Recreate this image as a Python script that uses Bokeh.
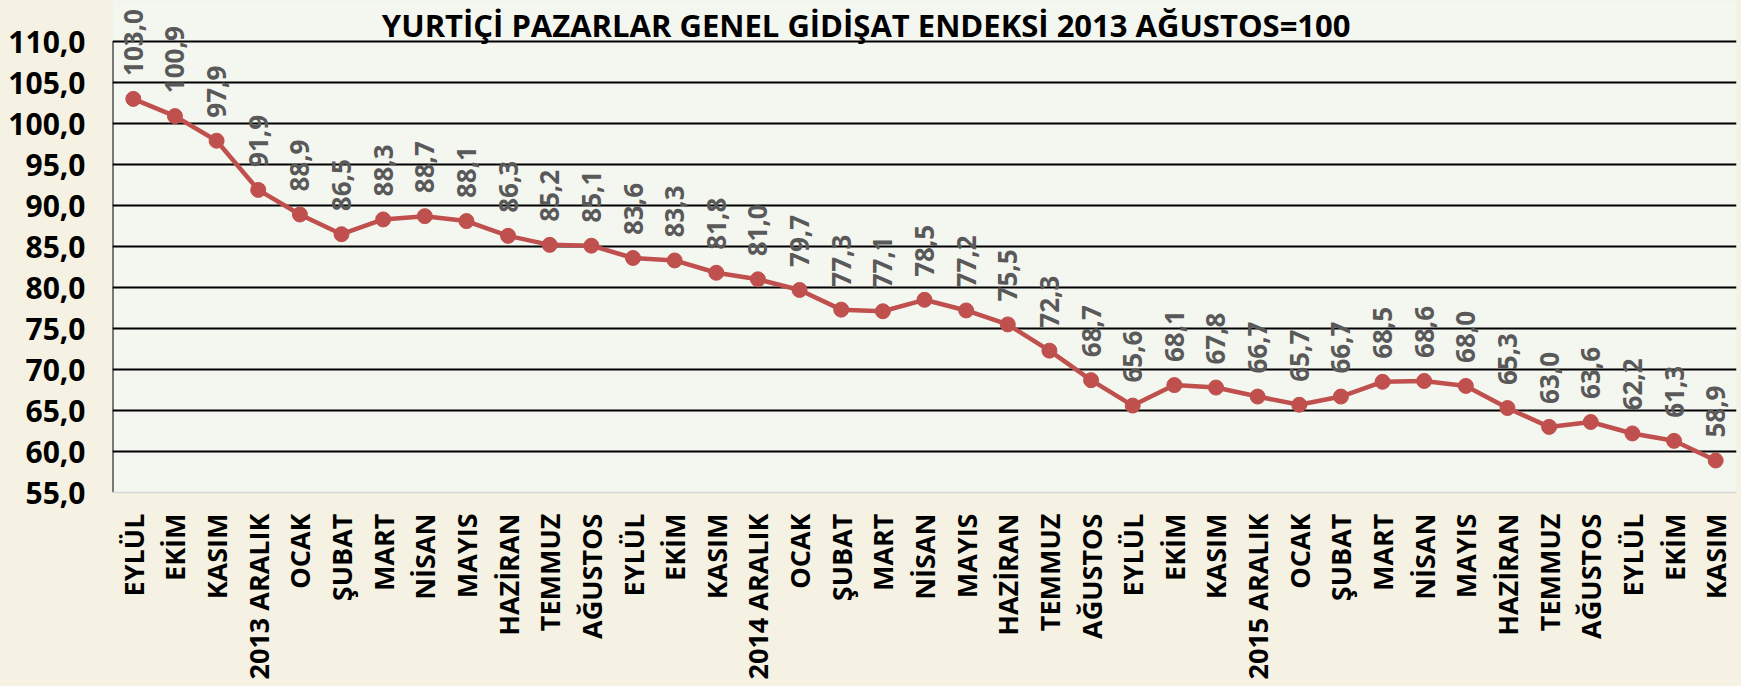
import math
from bokeh.plotting import figure
from bokeh.core.properties import value
from bokeh.models import (ColumnDataSource, LabelSet, Label, FixedTicker, Range1d,
                          GlobalInlineStyleSheet)
from bokeh.embed import file_html
from bokeh.resources import INLINE

# ---- data ----
months = ["EYLÜL", "EKİM", "KASIM", "2013 ARALIK", "OCAK", "ŞUBAT", "MART", "NİSAN",
          "MAYIS", "HAZİRAN", "TEMMUZ", "AĞUSTOS",
          "EYLÜL", "EKİM", "KASIM", "2014 ARALIK", "OCAK", "ŞUBAT", "MART", "NİSAN",
          "MAYIS", "HAZİRAN", "TEMMUZ", "AĞUSTOS",
          "EYLÜL", "EKİM", "KASIM", "2015 ARALIK", "OCAK", "ŞUBAT", "MART", "NİSAN",
          "MAYIS", "HAZİRAN", "TEMMUZ", "AĞUSTOS",
          "EYLÜL", "EKİM", "KASIM"]
values = [103.0, 100.9, 97.9, 91.9, 88.9, 86.5, 88.3, 88.7, 88.1, 86.3, 85.2, 85.1,
          83.6, 83.3, 81.8, 81.0, 79.7, 77.3, 77.1, 78.5, 77.2, 75.5, 72.3, 68.7,
          65.6, 68.1, 67.8, 66.7, 65.7, 66.7, 68.5, 68.6, 68.0, 65.3, 63.0, 63.6,
          62.2, 61.3, 58.9]
y_ticks = [55, 60, 65, 70, 75, 80, 85, 90, 95, 100, 105, 110]
title_text = "YURTİÇİ PAZARLAR GENEL GİDİŞAT ENDEKSİ 2013 AĞUSTOS=100"

xs = list(range(len(months)))
labels = [f"{v:.1f}".replace(".", ",") for v in values]
src = ColumnDataSource(dict(x=xs, y=values, lab=labels))

FONT = "Open Sans"
RED = "#C0504D"

# frame extends to canvas top so that labels/title above 110 are not clipped
PX_PER_UNIT = 451 / (y_ticks[-1] - y_ticks[0])
TOP_PAD = 41
y_top = y_ticks[-1] + TOP_PAD / PX_PER_UNIT
x_lo, x_hi = -0.5, len(months) - 0.5

p = figure(frame_width=1624, frame_height=451 + TOP_PAD,
           output_backend="svg", toolbar_location=None,
           x_range=Range1d(x_lo, x_hi), y_range=Range1d(y_ticks[0], y_top),
           min_border_left=112, min_border_right=5, min_border_top=0,
           min_border_bottom=194,
           border_fill_color="#F5F1E3", background_fill_color="#F4F6F0")
p.outline_line_color = None

p.stylesheets = [GlobalInlineStyleSheet(css="body { background-color: #F5F1E3; }")]

# axes
p.xaxis.ticker = FixedTicker(ticks=xs)
p.xaxis.major_label_overrides = {i: m for i, m in enumerate(months)}
p.xaxis.major_label_orientation = math.pi / 2
p.xaxis.major_label_text_font = FONT
p.xaxis.major_label_text_font_style = "bold"
p.xaxis.major_label_text_font_size = "27px"
p.xaxis.major_label_text_color = "black"
p.xaxis.major_label_standoff = 21
p.xaxis.major_tick_out = 0
p.xaxis.major_tick_in = 0
p.xaxis.major_tick_line_color = None
p.xaxis.minor_tick_line_color = None
p.xaxis.axis_line_color = "#D6D6D6"
p.xaxis.axis_line_width = 1.5

p.yaxis.ticker = FixedTicker(ticks=y_ticks)
p.yaxis.major_label_overrides = {t: f"{t:.1f}".replace(".", ",") for t in y_ticks}
p.yaxis.major_label_text_font = FONT
p.yaxis.major_label_text_font_style = "bold"
p.yaxis.major_label_text_font_size = "30px"
p.yaxis.major_label_text_color = "black"
p.yaxis.major_label_standoff = 27
p.yaxis.major_tick_out = 0
p.yaxis.major_tick_in = 0
p.yaxis.major_tick_line_color = None
p.yaxis.minor_tick_line_color = None
p.yaxis.axis_line_color = None

# left axis line only spanning the value range 55..110
p.segment(x0=[x_lo], y0=[y_ticks[0]], x1=[x_lo], y1=[y_ticks[-1]],
          line_color="black", line_width=2)

p.xgrid.visible = False
p.ygrid.ticker = FixedTicker(ticks=[t for t in y_ticks if t > y_ticks[0]])
p.ygrid.grid_line_color = "black"
p.ygrid.grid_line_width = 2

# series
p.line("x", "y", source=src, line_color=RED, line_width=4.5)
p.scatter("x", "y", source=src, size=15, fill_color=RED, line_color=RED)

# data labels (rotated)
p.add_layout(LabelSet(x="x", y="y", text="lab", source=src, angle=math.pi / 2,
                      text_align="left", text_baseline="middle", y_offset=23,
                      text_font=value(FONT), text_font_style="bold",
                      text_font_size="26px", text_color="#595959"))

# title
p.add_layout(Label(x=17.6, y=y_ticks[-1] + 17 / PX_PER_UNIT, text=title_text,
                   text_align="center", text_baseline="alphabetic",
                   text_font=FONT, text_font_style="bold", text_font_size="31px",
                   text_color="black"))

open("out.html", "w").write(file_html(p, INLINE))
